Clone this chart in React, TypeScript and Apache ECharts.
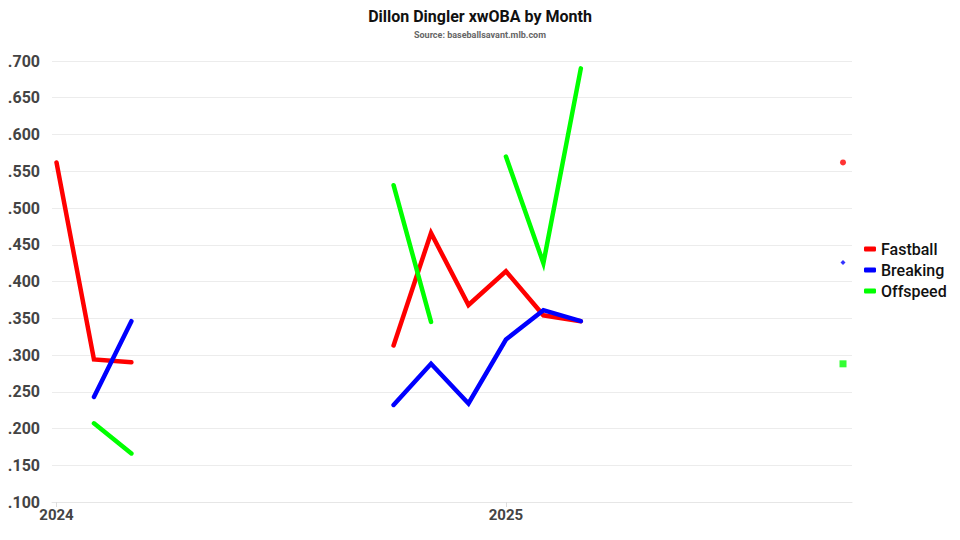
import React, { useEffect, useRef } from "react";
import * as echarts from "echarts";

// Month offsets from the first plotted month (x = 2024 + offset / 12)
const periods = [0, 1, 2, 9, 10, 11, 12, 13, 14];
const fastball = [0.562, 0.294, 0.29, 0.313, 0.466, 0.368, 0.414, 0.354, 0.346];
const breaking = [null, 0.243, 0.346, 0.232, 0.288, 0.234, 0.321, 0.361, 0.346];
const offspeed = [null, 0.207, 0.166, 0.531, 0.345, null, 0.57, 0.425, 0.69];

// Separate summary point at the right edge
const summaryPeriod = 21;
const summaryValues = [0.562, 0.426, 0.288];

const seriesNames = ["Fastball", "Breaking", "Offspeed"];
const seriesColors = ["#ff0000", "#0000ff", "#00ff00"];
const summarySymbols = ["circle", "diamond", "rect"];
const summarySizes = [6, 5, 7];
const yearTicks = [2024, 2025];

const FONT = "Roboto, 'Noto Sans', sans-serif";

function toX(p: number) {
  return 2024 + p / 12;
}

function buildLine(values: (number | null)[]) {
  const out: any[] = [];
  for (let i = 0; i < periods.length; i++) {
    if (i > 0 && periods[i] - periods[i - 1] > 1) {
      out.push([toX((periods[i] + periods[i - 1]) / 2), "-"]);
    }
    const v = values[i];
    out.push([toX(periods[i]), v == null ? "-" : v]);
  }
  return out;
}

export default function App() {
  const ref = useRef<HTMLDivElement>(null);
  useEffect(() => {
    if (!ref.current) return;
    document.body.style.margin = "0";
    const chart = echarts.init(ref.current, undefined, { renderer: "svg" });
    const allValues = [fastball, breaking, offspeed];
    const lineSeries = seriesNames.map((name, i) => ({
      name,
      type: "line",
      data: buildLine(allValues[i]),
      showSymbol: false,
      connectNulls: false,
      lineStyle: { color: seriesColors[i], width: 4.5, cap: "round", join: "miter" },
      itemStyle: { color: seriesColors[i] },
      z: 3,
    }));
    const pointSeries = seriesNames.map((name, i) => ({
      name: name + " total",
      type: "scatter",
      data: [[toX(summaryPeriod), summaryValues[i]]],
      symbol: summarySymbols[i],
      symbolSize: summarySizes[i],
      itemStyle: { color: seriesColors[i] },
      z: 3,
    }));
    chart.setOption({
      animation: false,
      backgroundColor: "#ffffff",
      title: {
        text: "Dillon Dingler xwOBA by Month",
        subtext: "Source: baseballsavant.mlb.com",
        left: "center",
        top: 3,
        itemGap: 6,
        textStyle: { fontFamily: FONT, fontSize: 16, fontWeight: "bold", color: "#111" },
        subtextStyle: { fontFamily: FONT, fontSize: 9, fontWeight: "bold", color: "#666" },
      },
      legend: {
        data: seriesNames.map((n, i) => ({ name: n, icon: "roundRect", itemStyle: { color: seriesColors[i] } })),
        orient: "vertical",
        left: 859,
        top: 236,
        itemWidth: 12,
        itemHeight: 5,
        itemGap: 5,
        textStyle: { fontFamily: FONT, fontSize: 16, fontWeight: 500, color: "#111" },
      },
      grid: { left: 52, right: 108, top: 61, bottom: 38, containLabel: false },
      xAxis: {
        type: "value",
        min: 2023.99,
        max: 2025.77,
        splitLine: { show: false },
        axisLine: { show: true, lineStyle: { color: "#e6e6e6", width: 1 } },
        axisTick: { show: true, customValues: yearTicks, length: 5, lineStyle: { color: "#dddddd" } },
        axisLabel: {
          customValues: yearTicks,
          formatter: (v: number) => String(Math.round(v)),
          fontFamily: FONT,
          fontSize: 15,
          fontWeight: "bold",
          color: "#444",
          margin: 5,
        },
      },
      yAxis: {
        type: "value",
        min: 0.1,
        max: 0.7,
        interval: 0.05,
        axisLine: { show: false },
        axisTick: { show: false },
        splitLine: { show: true, lineStyle: { color: "#ececec", width: 1 } },
        axisLabel: {
          formatter: (v: number) => v.toFixed(3).replace(/^0/, ""),
          fontFamily: FONT,
          fontSize: 16,
          fontWeight: "bold",
          color: "#444",
          margin: 12,
        },
      },
      series: [...lineSeries, ...pointSeries],
    });
    return () => chart.dispose();
  }, []);
  return <div ref={ref} style={{ width: 960, height: 540 }} />;
}
